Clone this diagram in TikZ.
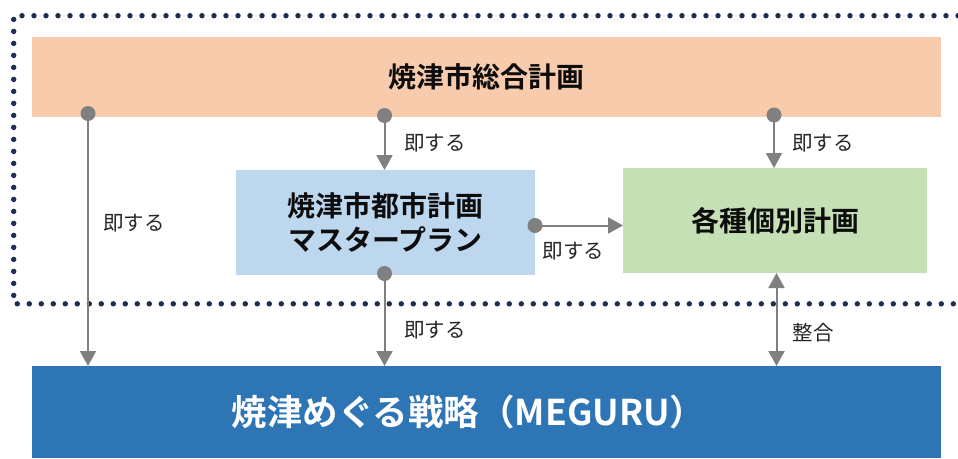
\documentclass[tikz,border=0pt]{standalone}
\usepackage{fontspec}
\newfontfamily\jp{Noto Sans CJK JP}[BoldFont={Noto Sans CJK JP Bold}]
\usetikzlibrary{arrows.meta,calc}
\definecolor{orangebox}{HTML}{F8CBAD}
\definecolor{bluebox}{HTML}{BDD7EE}
\definecolor{greenbox}{HTML}{C5E0B4}
\definecolor{darkbox}{HTML}{2E75B6}
\definecolor{conn}{HTML}{808080}
\definecolor{navy}{HTML}{1B2D52}
\definecolor{txt}{HTML}{0D0D0D}
\begin{document}
\begin{tikzpicture}[x=1pt,y=-1pt,
  boxstyle/.style={rectangle,inner sep=0pt,outer sep=0pt,align=center,
    font=\jp\bfseries\fontsize{28}{34}\selectfont,text=txt},
  dotc/.style={circle,fill=conn,minimum size=15pt,inner sep=0pt,outer sep=0pt},
  arr/.style={draw=conn,line width=2pt,-{Triangle[length=15pt,width=16pt]}},
  darr/.style={draw=conn,line width=2pt,{Triangle[length=15pt,width=16pt]}-{Triangle[length=15pt,width=16pt]}},
  lbl/.style={font=\jp\fontsize{20.5}{24}\selectfont,text=black!85,inner sep=0pt},
  frame/.style={draw=navy,line width=5.4pt,line cap=round,dash pattern=on 0pt off 12pt}
]
\useasboundingbox (0,0) rectangle (958,458);
% dotted frame (open to the right)
\draw[frame] (958,15.7) -- (13.7,15.7) -- (13.7,303.8) -- (958,303.8);
% boxes
\node[boxstyle,fill=orangebox,minimum width=909pt,minimum height=80pt] (sogo) at (486.5,77) {焼津市総合計画};
\node[boxstyle,fill=bluebox,minimum width=299pt,minimum height=105pt] (mp) at (385.5,222.5) {焼津市都市計画\\マスタープラン};
\node[boxstyle,fill=greenbox,minimum width=304pt,minimum height=105pt] (kobetsu) at (775,220.5) {各種個別計画};
\node[boxstyle,fill=darkbox,text=white,minimum width=909pt,minimum height=92pt,
  font=\jp\bfseries\fontsize{35.5}{40}\selectfont] (meguru) at (486.5,412) {焼津めぐる戦略（MEGURU）\hspace*{36pt}};
% connector start dots
\node[dotc] (d1) at (88,113.5) {};
\node[dotc] (d2) at (384.5,115.5) {};
\node[dotc] (d3) at (774,115) {};
\node[dotc] (d4) at (535,225.5) {};
\node[dotc] (d5) at (384.5,273.5) {};
\coordinate (g6) at (776.5,273);
% connectors
\draw[arr] (d1.center) -- (d1.center |- meguru.north);
\draw[arr] (d2.center) -- (d2.center |- mp.north);
\draw[arr] (d3.center) -- (d3.center |- kobetsu.north);
\draw[arr] (d4.center) -- (d4.center -| kobetsu.west);
\draw[arr] (d5.center) -- (d5.center |- meguru.north);
\draw[darr] (g6 |- kobetsu.south) -- (g6 |- meguru.north);
% labels
\node[lbl] (l1) at (134,223) {即する};
\node[lbl] (l2) at (435,143) {即する};
\node[lbl] (l3) at (823,143) {即する};
\node[lbl] (l4) at (573.5,251.5) {即する};
\node[lbl] (l5) at (435,330) {即する};
\node[lbl] (l6) at (813,333) {整合};
\end{tikzpicture}
\end{document}
